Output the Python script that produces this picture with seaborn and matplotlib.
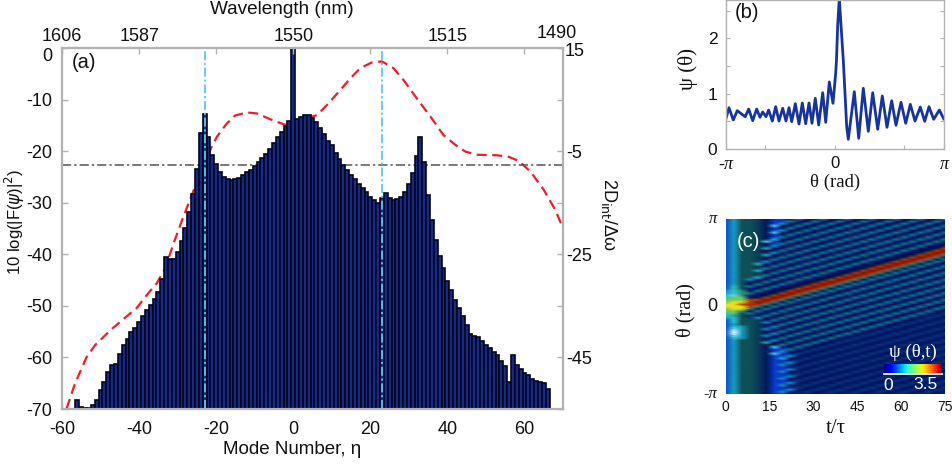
import numpy as np
import pandas as pd
import seaborn as sns
import matplotlib.pyplot as plt
from matplotlib.colors import ListedColormap

# (a) comb spectrum, dB
modes = list(range(-56, 67))
levels_db = [-68.3, -69.7, -69.9, -69.8, -69.2, -68.2, -66.4, -64.7, -62.8, -61.5, -61.2,
             -59.4, -57.6, -56.4, -55.1, -54.2, -53.1, -52.0, -50.9, -49.8, -48.7, -47.4, -44.8,
             -40.5, -41.0, -40.9, -39.6, -37.5, -34.9, -31.8, -28.3, -23.5, -16.4, -12.8, -17.3,
             -20.7, -22.5, -24.1, -25.0, -25.4, -25.5, -25.4, -25.2, -24.7, -24.1, -23.6, -22.9,
             -22.2, -21.4, -20.5, -19.6, -18.5, -17.3, -16.3, -15.1, -14.2, 0.0, -13.8, -13.3,
             -12.9, -13.0, -13.6, -14.3, -15.5, -16.7, -18.0, -18.9, -20.3, -21.5, -22.7, -23.7,
             -24.6, -25.4, -26.4, -27.2, -28.0, -28.8, -29.5, -30.1, -29.1, -28.2, -29.0, -29.4,
             -29.3, -28.8, -27.9, -26.4, -24.2, -21.0, -17.2, -22.2, -28.6, -33.4, -37.2, -40.3,
             -42.7, -45.1, -47.0, -48.9, -50.4, -52.0, -53.7, -55.4, -55.9, -56.0, -56.8, -57.5,
             -58.1, -58.9, -59.6, -60.6, -61.6, -64.8, -59.5, -61.5, -62.2, -63.0, -63.5, -64.1,
             -64.6, -64.7, -64.9, -66.2]

# (a) integrated dispersion, right axis
disp_modes = [-58.8, -56.6, -55.3, -53.6, -51.4, -47.1, -44.1, -40.6, -38.0, -35.4, -33.2, -31.1,
              -28.5, -26.3, -23.9, -21.3, -19.8, -17.2, -15.1, -12.0, -9.4, -6.0, -2.1, 1.8, 6.2,
              9.2, 11.8, 14.8, 17.4, 20.4, 23.0, 26.0, 28.6, 32.1, 35.6, 39.0, 42.1, 44.7, 47.7,
              52.9, 55.9, 58.5, 61.6, 65.0, 68.0, 70.2]
disp_vals = [-54.9, -50.0, -47.8, -44.9, -42.6, -39.5, -37.6, -35.4, -32.9, -30.6, -27.7, -23.0,
             -17.7, -13.5, -8.7, -4.4, -2.2, 0.4, 1.9, 2.5, 2.3, 1.2, 0.1, 1.0, 2.0,
             4.3, 6.5, 9.1, 11.1, 12.2, 12.4, 11.1, 8.8, 5.2, 1.7, -1.9, -3.8, -5.1, -5.7,
             -5.8, -6.1, -6.9, -9.0, -12.5, -16.4, -20.3]

# (b) waveform
theta = [-3.14, -3.047, -2.923, -2.808, -2.71, -2.578, -2.48, -2.365, -2.25, -2.155, -2.077, -1.982,
         -1.905, -1.8, -1.703, -1.608, -1.501, -1.406, -1.32, -1.242, -1.138, -1.032, -0.937, -0.839,
         -0.744, -0.658, -0.563, -0.465, -0.35, -0.263, -0.16, -0.053, 0.024, 0.047, 0.082, 0.128,
         0.177, 0.243, 0.341, 0.387, 0.56, 0.687, 0.819, 0.963, 1.09, 1.233, 1.366, 1.501, 1.636,
         1.76, 1.904, 2.04, 2.172, 2.307, 2.46, 2.586, 2.71, 2.845, 3.007, 3.14]
psi = [0.537, 0.747, 0.524, 0.693, 0.645, 0.584, 0.723, 0.512, 0.723, 0.573, 0.669, 0.584,
       0.705, 0.506, 0.765, 0.506, 0.736, 0.506, 0.747, 0.494, 0.819, 0.452, 0.832, 0.458,
       0.832, 0.465, 0.917, 0.434, 1.018, 0.483, 1.212, 0.826, 1.369, 1.61, 2.24, 2.72,
       2.24, 1.61, 0.403, 0.175, 1.036, 0.193, 1.098, 0.32, 1.018, 0.356, 0.958, 0.392, 0.873,
       0.429, 0.844, 0.465, 0.808, 0.506, 0.759, 0.501, 0.765, 0.537, 0.705, 0.537]

# (c) evolution map, one letter per cell, top row first
shade_keys = list(".-+taAcwLeEnbgjyorR")
shade_cols = ['#000f50', '#001878', '#0a3c7c', '#188690', '#1a9cc0', '#30c0c8', '#60dff0', '#e0fbff',
              '#0a50c8', '#0e5058', '#0a3a5a', '#001858', '#0a38c8', '#2f8f78', '#70c860', '#e8e020',
              '#a84808', '#c01c04', '#800a00']
map_rows = [
    "LaeeEnbb.t-.t-.t-.t-.t-.t-.t",
    "LaeeEnbbt-.t-.t-.t-.t-.t-.t-",
    "LaeeEnba-.t-.t-.t-.t-.t-.t-.",
    "LaeeEnc-.t-.t-.t-.t-.t-.t-.t",
    "LaeeEnb.t-.t-.t-.t-.t-.t-.t-",
    "LaeeEnba-.t-.t-.t-.t-.t-.t-.",
    "LaeeEnc-.t-.t-.t-.t-.t-.t-.t",
    "LaeeEnb.t-.t-.t-.t-.t-.t-.t-",
    "LaeeEnbt-.t-.t-.t-.t-.t-.t-.",
    "LaeeEnA-.t-.t-.t-.t-.t-.t-.t",
    "LaeeEcb.t-.t-.t-.t-.t-.t-.t-",
    "LaeeEnbt-.t-.t-.t-.t-.t-.t-.",
    "LaeeEna-.t-.t-.t-.t-.t-.t-..",
    "LaeeEA-.t-.t-.t-.t-.t-.t-..o",
    "LaeeEn.t-.t-.t-.t-.t-.t-..oR",
    "LaeeEna-.t-.t-.t-.t-.t-..oRr",
    "LaeeEA-.t-.t-.t-.t-.t-..oRrg",
    "LaeeEn.t-.t-.t-.t-.t-..oRrg.",
    "LaeeEnt-.t-.t-.t-.t-..oRrg.t",
    "LaeeEa-.t-.t-.t-.t-..oRrg.t-",
    "LaeeA-.t-.t-.t-.t-..oRrg.t-.",
    "LaeeE.t-.t-.t-.t-..oRrg.t-.t",
    "LaeeEt-.t-.t-.t-..oRrg.t-.t-",
    "LaeeA-.t-.t-.t-..oRrg.t-.t-.",
    "LaeeE.t-.t-.t-..oRrg.t-.t-.t",
    "LaeeEt-.t-.t-..oRrg.t-.t-.t-",
    "LaeeA-.t-.t-..oRrg.t-.t-.t-.",
    "Laea-.t-.t-..oRrg.t-.t-.t-.t",
    "Lae-.t-.t-..oRrg.t-.t-.t-.t-",
    "Lae.t-.t-..oRrg.t-.t-.t-.t-.",
    "LAet-.t-..oRrg.t-.t-.t-.t-.t",
    "LAe-.t-..oRrg.t-.t-.t-.t-.t-",
    "aAg.t-..oRrg.t-.t-.t-.t-.t-.",
    "aAgt-..oRrg.t-.t-.t-.t-.t-.t",
    "Acg-..oRrg.t-.t-.t-.t-.t-.t-",
    "Ajj..oRrg.t-.t-.t-.t-.t-.t-.",
    "jjjooRrg.t-.t-.t-.t-.t-.t-.t",
    "jyyoRrg.t-.t-.t-.t-.t-.t-.t-",
    "yyorrg.t-.t-.t-.t-.t-.t-.t-.",
    "yyyog.t-.t-.t-.t-.t-.t-.t-.t",
    "jyyg.t-.t-.t-.t-.t-.t-.t-.t-",
    "jjg.t-.t-.t-.t-.t-.t-.t-.t-.",
    "Ajet-.t-.t-.t-.t-.t-.t-.t-.+",
    "Aae-.t-.t-.t-.t-.t-.t-.t-.+-",
    "aAeEa-.t-.t-.t-.t-.t-.t-.+-.",
    "LAeeE.t-.t-.t-.t-.t-.t-.+-.+",
    "LAeeEa-.t-.t-.t-.t-.t-.+-.+-",
    "LaeeE-.t-.t-.t-.t-.t-.+-.+-.",
    "LAaeEna-.t-.t-.t-.t-.+-.+-.+",
    "LcaeEa-.t-.t-.t-.t-.+-.+-.+-",
    "LwaeEn.t-.t-.t-.t-.+-.+-.+-.",
    "LwaeEna-.t-.t-.t-.+-.+-.+-.+",
    "LcaeEa-.t-.t-.t-.+-.+-.+-.+-",
    "LAaeEn.t-.t-.t-.+-.+-.+-.+-.",
    "LaeeEna-.t-.t-.+-.+-.+-.+-.+",
    "LaeeEA-.t-.t-.+-.+-.+-.+-.+-",
    "LaeeEn.t-.t-.+-.+-.+-.+-.+-.",
    "LaeeEnc-.t-.+-.+-.+-.+-.+-.+",
    "LaeeEnbbt-.+-.+-.+-.+-.+-.+-",
    "LaeeEnba-.+-.+-.+-.+-.+-.+-.",
    "LaeeEncb-+-.+-.+-.+-.+-.+-.+",
    "LaeeEnbba-.+-.+-.+-.+-.+-.+-",
    "LaeeEnbA-.+-.+-.+-.+-.+-.+-.",
    "LaeeEnbb-+-.+-.+-.+-.+-.+-.+",
    "LaeeEnbba-.+-.+-.+-.+-.+-.+-",
    "LaeeEnba-.+-.+-.+-.+-.+-.+-.",
    "LaeeEnbb-+-.+-.+-.+-.+-.+-.+",
    "LaeeEnbba-.+-.+-.+-.+-.+-.+-",
    "LaeeEnba-.+-.+-.+-.+-.+-.+-.",
    "LaeeEnbb-+-.+-.+-.+-.+-.+-.+",
    "LaeeEnbba-.+-.+-.+-.+-.+-.+-",
    "LaeeEnba-.+-.+-.+-.+-.+-.+-.",
    "LaeeEnbb-+-.+-.+-.+-.+-.+-.+",
    "LaeeEnbba-.+-.+-.+-.+-.+-.+-",
    "LaeeEnba-.+-.+-.+-.+-.+-.+-.",
    "LaeeEnbb-+-.+-.+-.+-.+-.+-.+",
    "LaeeEnbba-.+-.+-.+-.+-.+-.+-",
    "LaeeEnba-.+-.+-.+-.+-.+-.+-.",
    "LaeeEnbb-+-.+-.+-.+-.+-.+-.+",
]
bar_levels = [0, 0.2, 0.4, 0.6, 0.8, 1.0, 1.2, 1.4, 1.6, 1.8, 2.0, 2.2, 2.4, 2.6, 2.8, 3.0, 3.2, 3.5]

# tick labels
left_ticks = [0, -10, -20, -30, -40, -50, -60, -70]
right_ticks = [15, 5, -5, -15, -25, -35, -45, -55]
right_labels = ['', '', '-5', '', '-25', '', '-45', '']
x_ticks = [-60, -40, -20, 0, 20, 40, 60]
wl_labels = ['1606', '1587', '', '1550', '', '1515', '']

W, H = 952, 465
GRAY = '#b2b2b2'
SANS = 'Liberation Sans'
SERIF = 'Liberation Serif'

sns.set_theme(style='white')
plt.rcParams['font.family'] = [SANS, 'DejaVu Sans']
plt.rcParams['axes.unicode_minus'] = False
plt.rcParams['text.color'] = '#111111'
plt.rcParams['xtick.color'] = GRAY
plt.rcParams['ytick.color'] = GRAY
plt.rcParams['xtick.labelcolor'] = '#111111'
plt.rcParams['ytick.labelcolor'] = '#111111'

fig = plt.figure(figsize=(W / 100, H / 100), dpi=100)


def place(l, t, r, b):
    return fig.add_axes([l / W, 1 - b / H, (r - l) / W, (b - t) / H])


def gray_frame(ax, width=1.5):
    for sp in ax.spines.values():
        sp.set_visible(True)
        sp.set_color(GRAY)
        sp.set_linewidth(width)


def label(x, y, s, **kw):
    kw.setdefault('ha', 'center')
    kw.setdefault('va', 'center')
    return fig.text(x / W, 1 - y / H, s, **kw)


#1. panel (a)
ax = place(62, 48, 563, 409)
spec = pd.DataFrame({'mode': modes, 'height': np.array(levels_db) + 70})
ax.axhline(-22.7, color='#555555', lw=1.1, ls=(0, (6, 2, 1.5, 2)), zorder=0.5)
sns.barplot(data=spec, x='mode', y='height', native_scale=True, width=1, bottom=-70,
            color='#14298a', saturation=1, edgecolor='#05071a', linewidth=1.2, ax=ax, zorder=2)
for m in [-23, 23]:
    ax.axvline(m, color='#5cc8f2', lw=1.3, ls=(0, (5, 1.5, 1.2, 1.5)), zorder=5)
ax.set_xlim(-60, 70)
ax.set_ylim(-70, 0)
ax.set_xticks(x_ticks)
ax.set_xticklabels([str(v) for v in x_ticks], fontsize=13)
ax.set_yticks(left_ticks)
ax.set_yticklabels([str(v) for v in left_ticks], fontsize=13)
ax.get_yticklabels()[0].set_verticalalignment('top')
ax.set_xlabel('')
ax.set_ylabel('')
ax.tick_params(axis='x', direction='in', length=4, width=1, pad=9, bottom=True)
ax.tick_params(axis='y', direction='in', length=4, width=1, pad=7, left=True)
gray_frame(ax)
ax.patch.set_visible(False)

ax_r = ax.twinx()
sns.lineplot(x=disp_modes, y=disp_vals, color='#f01c28', lw=1.6, linestyle=(0, (4.5, 2.5)), ax=ax_r)
ax_r.set_xlim(-60, 70)
ax_r.set_ylim(-55, 15)
ax_r.set_yticks(right_ticks)
ax_r.set_yticklabels(right_labels, fontsize=13)
ax_r.tick_params(direction='in', length=4, width=1, pad=2, right=True)
gray_frame(ax_r)
ax_r.set_zorder(1)
ax.set_zorder(2)
label(565, 52, '15', ha='left', fontsize=13)

ax_t = ax.twiny()
ax_t.set_xlim(-60, 70)
ax_t.set_xticks(x_ticks)
ax_t.set_xticklabels(wl_labels, fontsize=13)
ax_t.tick_params(direction='in', length=4, width=1, pad=2.5, top=True)
gray_frame(ax_t)
label(557, 33, '1490', fontsize=13)
label(282, 10, 'Wavelength (nm)', fontsize=13.7)
label(292, 449, 'Mode Number, η', fontsize=13.5)
label(15, 222, '10 log(|F($\\psi$)|$^2$)', rotation=90, fontsize=12)
label(609, 214, '2D$_{\\mathrm{int}}$/Δω', rotation=270, fontsize=13)
label(84, 63, '(a)', fontsize=14.5)

#2. panel (b)
ax_b = place(725.7, 0, 944, 149)
sns.lineplot(x=theta, y=psi, color='#17349c', lw=2, ax=ax_b, solid_joinstyle='round')
ax_b.set_xlim(-np.pi, np.pi)
ax_b.set_ylim(0, 149 / 55.3)
ax_b.set_xticks([-np.pi, -2, 0, 2, np.pi])
ax_b.set_xticklabels(['-π', '', '0', '', 'π'], fontsize=12)
ax_b.set_yticks([0, 0.5, 1, 1.5, 2, 2.5])
ax_b.set_yticklabels(['0', '', '1', '', '2', ''], fontsize=12.5)
ax_b.tick_params(axis='x', direction='in', length=3, width=0.8, pad=5, bottom=True)
ax_b.tick_params(axis='y', direction='in', length=3, width=0.8, pad=6, left=True, right=True)
for t_lab in [ax_b.get_xticklabels()[0], ax_b.get_xticklabels()[4]]:
    t_lab.set_fontfamily(SERIF)
    t_lab.set_fontstyle('italic')
    t_lab.set_fontsize(13)
gray_frame(ax_b, 1.0)
label(835, 182, 'θ (rad)', fontsize=13.5, family=SERIF)
label(688, 69, 'ψ (θ)', rotation=90, fontsize=15, family=SERIF)
label(747, 13, '(b)', fontsize=14.5)

#3. panel (c)
ax_c = place(725.7, 219.3, 945, 394.3)
field = np.array([[shade_keys.index(ch) for ch in row] for row in map_rows])
sns.heatmap(field, cmap=ListedColormap(shade_cols), vmin=-0.5, vmax=len(shade_keys) - 0.5,
            cbar=False, shading='gouraud', ax=ax_c)
n_rows, n_cols = field.shape
ax_c.set_xlim(0, n_cols - 1)
ax_c.set_ylim(n_rows - 1, 0)
t_ticks = [0, 15, 30, 45, 60, 75]
ax_c.set_xticks([v / 75 * (n_cols - 1) for v in t_ticks])
ax_c.set_xticklabels([str(v) for v in t_ticks], fontsize=10, rotation=0)
ax_c.set_yticks([0, (n_rows - 1) / 2, n_rows - 1])
ax_c.set_yticklabels(['π', '0', '-π'], fontsize=13, rotation=0)
for t_lab in [ax_c.get_yticklabels()[0], ax_c.get_yticklabels()[2]]:
    t_lab.set_fontfamily(SERIF)
    t_lab.set_fontstyle('italic')
    t_lab.set_fontsize(12)
ax_c.tick_params(length=0, pad=6)
ax_c.tick_params(axis='x', pad=4)
label(836, 428, 't/τ', fontsize=15, family=SERIF)
label(686, 310, 'θ (rad)', rotation=90, fontsize=14.5, family=SERIF)
label(748, 241, '(c)', fontsize=14.5, color='white')

ax_cb = place(884, 364, 942, 374)
sns.heatmap(np.array([bar_levels, bar_levels]), cmap='jet', vmin=0, vmax=3.5, cbar=False, shading='gouraud',
            xticklabels=False, yticklabels=False, ax=ax_cb)
ax_cb.set_xlim(0, len(bar_levels) - 1)
ax_cb.set_ylim(0, 1)
ax_cb.spines['bottom'].set_visible(True)
ax_cb.spines['bottom'].set_color('white')
label(913, 352, 'ψ (θ,t)', fontsize=13.5, family=SERIF, color='white')
label(888, 386, '0', fontsize=12.5, color='white')
label(925, 384, '3.5', fontsize=12.5, color='white')

fig.savefig('out.png', dpi=100)
